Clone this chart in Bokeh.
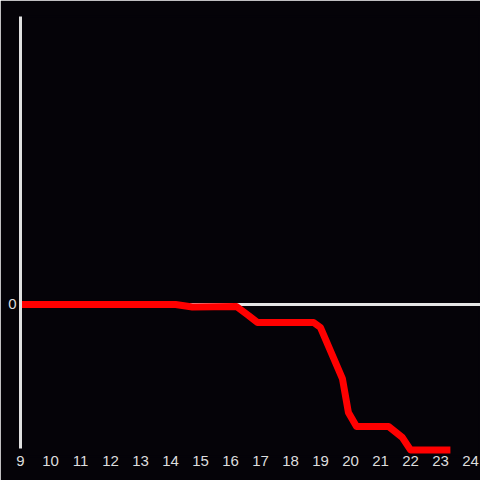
from bokeh.plotting import figure
from bokeh.models import FixedTicker, Span, Range1d
from bokeh.embed import file_html
from bokeh.resources import INLINE

hours = [9.0, 14.17, 14.73, 16.2, 16.6, 16.9, 18.77, 19.0, 19.73, 19.93, 20.2, 21.27, 21.73, 22.0, 23.33]
values = [0.0, 0.0, -0.017, -0.014, -0.076, -0.125, -0.125, -0.16, -0.514, -0.75, -0.847, -0.847, -0.924, -1.01, -1.01]
x_ticks = list(range(9, 25))
y_ticks = [0]

BG = "#050308"
p = figure(width=480, height=480, output_backend="svg", toolbar_location=None,
           x_range=Range1d(9, 24.333), y_range=Range1d(-1.0556, 2.0),
           background_fill_color=BG, border_fill_color=BG,
           min_border_left=20, min_border_right=0, min_border_top=16, min_border_bottom=24)
p.outline_line_color = BG
p.outline_line_width = 2
p.grid.visible = False

p.add_layout(Span(location=0, dimension="width", line_color="#e6e6e6", line_width=3, level="underlay"))
p.line(hours, values, line_color="#ff0000", line_width=7, line_join="round")

xa = p.xaxis[0]
xa.ticker = FixedTicker(ticks=x_ticks)
xa.axis_line_color = None
xa.major_tick_line_color = None
xa.minor_tick_line_color = None
xa.major_tick_out = 0
xa.major_label_standoff = -1
xa.major_label_text_color = "#dddddd"
xa.major_label_text_font = "Liberation Sans"
xa.major_label_text_font_size = "15px"

ya = p.yaxis[0]
ya.ticker = FixedTicker(ticks=y_ticks)
ya.bounds = (-1.0, 2.0)
ya.axis_line_color = "#e0e0e0"
ya.axis_line_width = 3
ya.major_tick_line_color = None
ya.minor_tick_line_color = None
ya.major_tick_out = 0
ya.major_label_standoff = 4
ya.major_label_text_color = "#dddddd"
ya.major_label_text_font = "Liberation Sans"
ya.major_label_text_font_size = "15px"

open("out.html", "w").write(file_html(p, INLINE))
